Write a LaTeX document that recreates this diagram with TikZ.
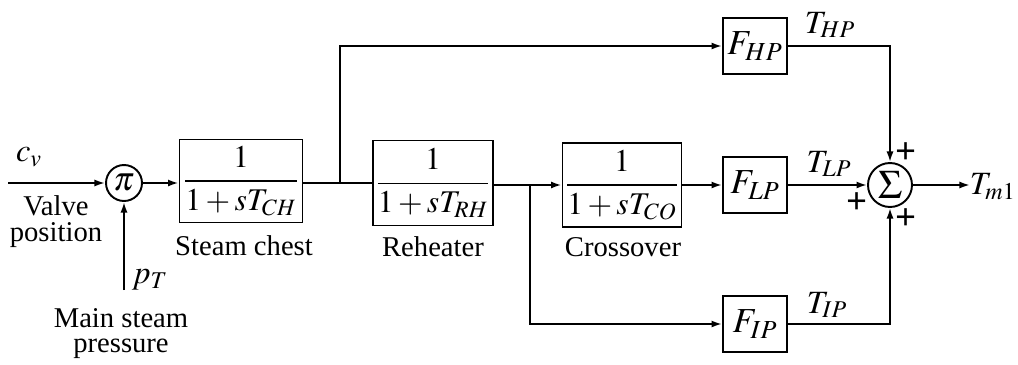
\documentclass[tikz,border=0pt]{standalone}
\usepackage{amsmath}
\usepackage{mathptmx}
\usepackage{fontspec}
\setmainfont{Liberation Serif}
\usetikzlibrary{arrows.meta}

\tikzset{
  wire/.style={line width=1.1pt},
  sig/.style={wire, -{Latex[length=6pt,width=4pt]}},
  tfbox/.style={draw, line width=1.1pt, rectangle, inner sep=0pt, font=\fontsize{18}{21}\selectfont},
  gainbox/.style={draw, line width=1.1pt, rectangle, inner sep=0pt, minimum width=1.28cm, minimum height=1.12cm, font=\fontsize{20}{23}\selectfont},
  junc/.style={draw, line width=1.1pt, circle, inner sep=0pt},
  caption/.style={font=\fontsize{16.3}{19}\selectfont, inner sep=0pt},
  sym/.style={font=\fontsize{18.5}{21}\selectfont, inner sep=0pt},
  sgn/.style={font=\fontsize{21}{23}\selectfont\bfseries, inner sep=0pt}
}

\begin{document}
\begin{tikzpicture}[x=0.02cm, y=-0.02cm]
  \useasboundingbox (0,0) rectangle (1018,365);

  % blocks
  \node[junc, minimum size=0.72cm, font=\fontsize{19}{22}\selectfont] (pi) at (124,183) {$\pi$};
  \node[tfbox, minimum width=2.46cm, minimum height=1.66cm] (chest) at (241,181) {$\dfrac{1}{1+sT_{CH}}$};
  \node[tfbox, minimum width=2.40cm, minimum height=1.70cm] (reheat) at (433,183) {$\dfrac{1}{1+sT_{RH}}$};
  \node[tfbox, minimum width=2.38cm, minimum height=1.68cm] (cross) at (622,185) {$\dfrac{1}{1+sT_{CO}}$};
  \node[gainbox] (fhp) at (755,46) {$F_{HP}$};
  \node[gainbox] (flp) at (755,185) {$F_{LP}$};
  \node[gainbox] (fip) at (755,324) {$F_{IP}$};
  \node[junc, minimum size=0.88cm, font=\fontsize{23}{25}\selectfont] (sum) at (890,185) {$\Sigma$};

  % free ends and branch points
  \coordinate (cvin) at (8,183);
  \coordinate (j1) at (340,183);
  \coordinate (j2) at (530,185);
  \coordinate (pin) at (124,290);
  \coordinate (out) at (970,185);

  % signal lines
  \draw[sig] (cvin) -- (pi);
  \draw[sig] (pin) -- (pi);
  \draw[sig] (pi) -- (chest.west |- pi);
  \draw[wire] (chest.east |- j1) -- (reheat.west |- j1);
  \draw[sig] (j1) |- (fhp);
  \draw[sig] (reheat.east |- j2) -- (cross.west |- j2);
  \draw[sig] (j2) |- (fip);
  \draw[sig] (cross) -- (flp);
  \draw[sig] (fhp) -| (sum);
  \draw[sig] (fip) -| (sum);
  \draw[sig] (flp) -- (sum);
  \draw[sig] (sum) -- (out);

  % signal names
  \node[sym] (cv) at (29,157) {$c_v$};
  \node[sym] (pt) at (150,280) {$p_T$};
  \node[sym] (thp) at (830,25) {$T_{HP}$};
  \node[sym] (tlp) at (829,164) {$T_{LP}$};
  \node[sym] (tip) at (827,305) {$T_{IP}$};
  \node[sym, anchor=east] (tm) at (1016,187) {$T_{m\mathrm{1}}$};

  % summing signs
  \node[sgn] (s1) at (906,153) {+};
  \node[sgn] (s2) at (857,203) {+};
  \node[sgn] (s3) at (906,219) {+};

  % captions
  \node[caption] (valve) at (56,206) {Valve};
  \node[caption] (pos) at (56,235) {position};
  \node[caption] (main) at (121,318) {Main steam};
  \node[caption] (press) at (121,349) {pressure};
  \node[caption] (sc) at (244,246) {Steam chest};
  \node[caption] (rh) at (433,247) {Reheater};
  \node[caption] (co) at (623,247) {Crossover};
\end{tikzpicture}
\end{document}
